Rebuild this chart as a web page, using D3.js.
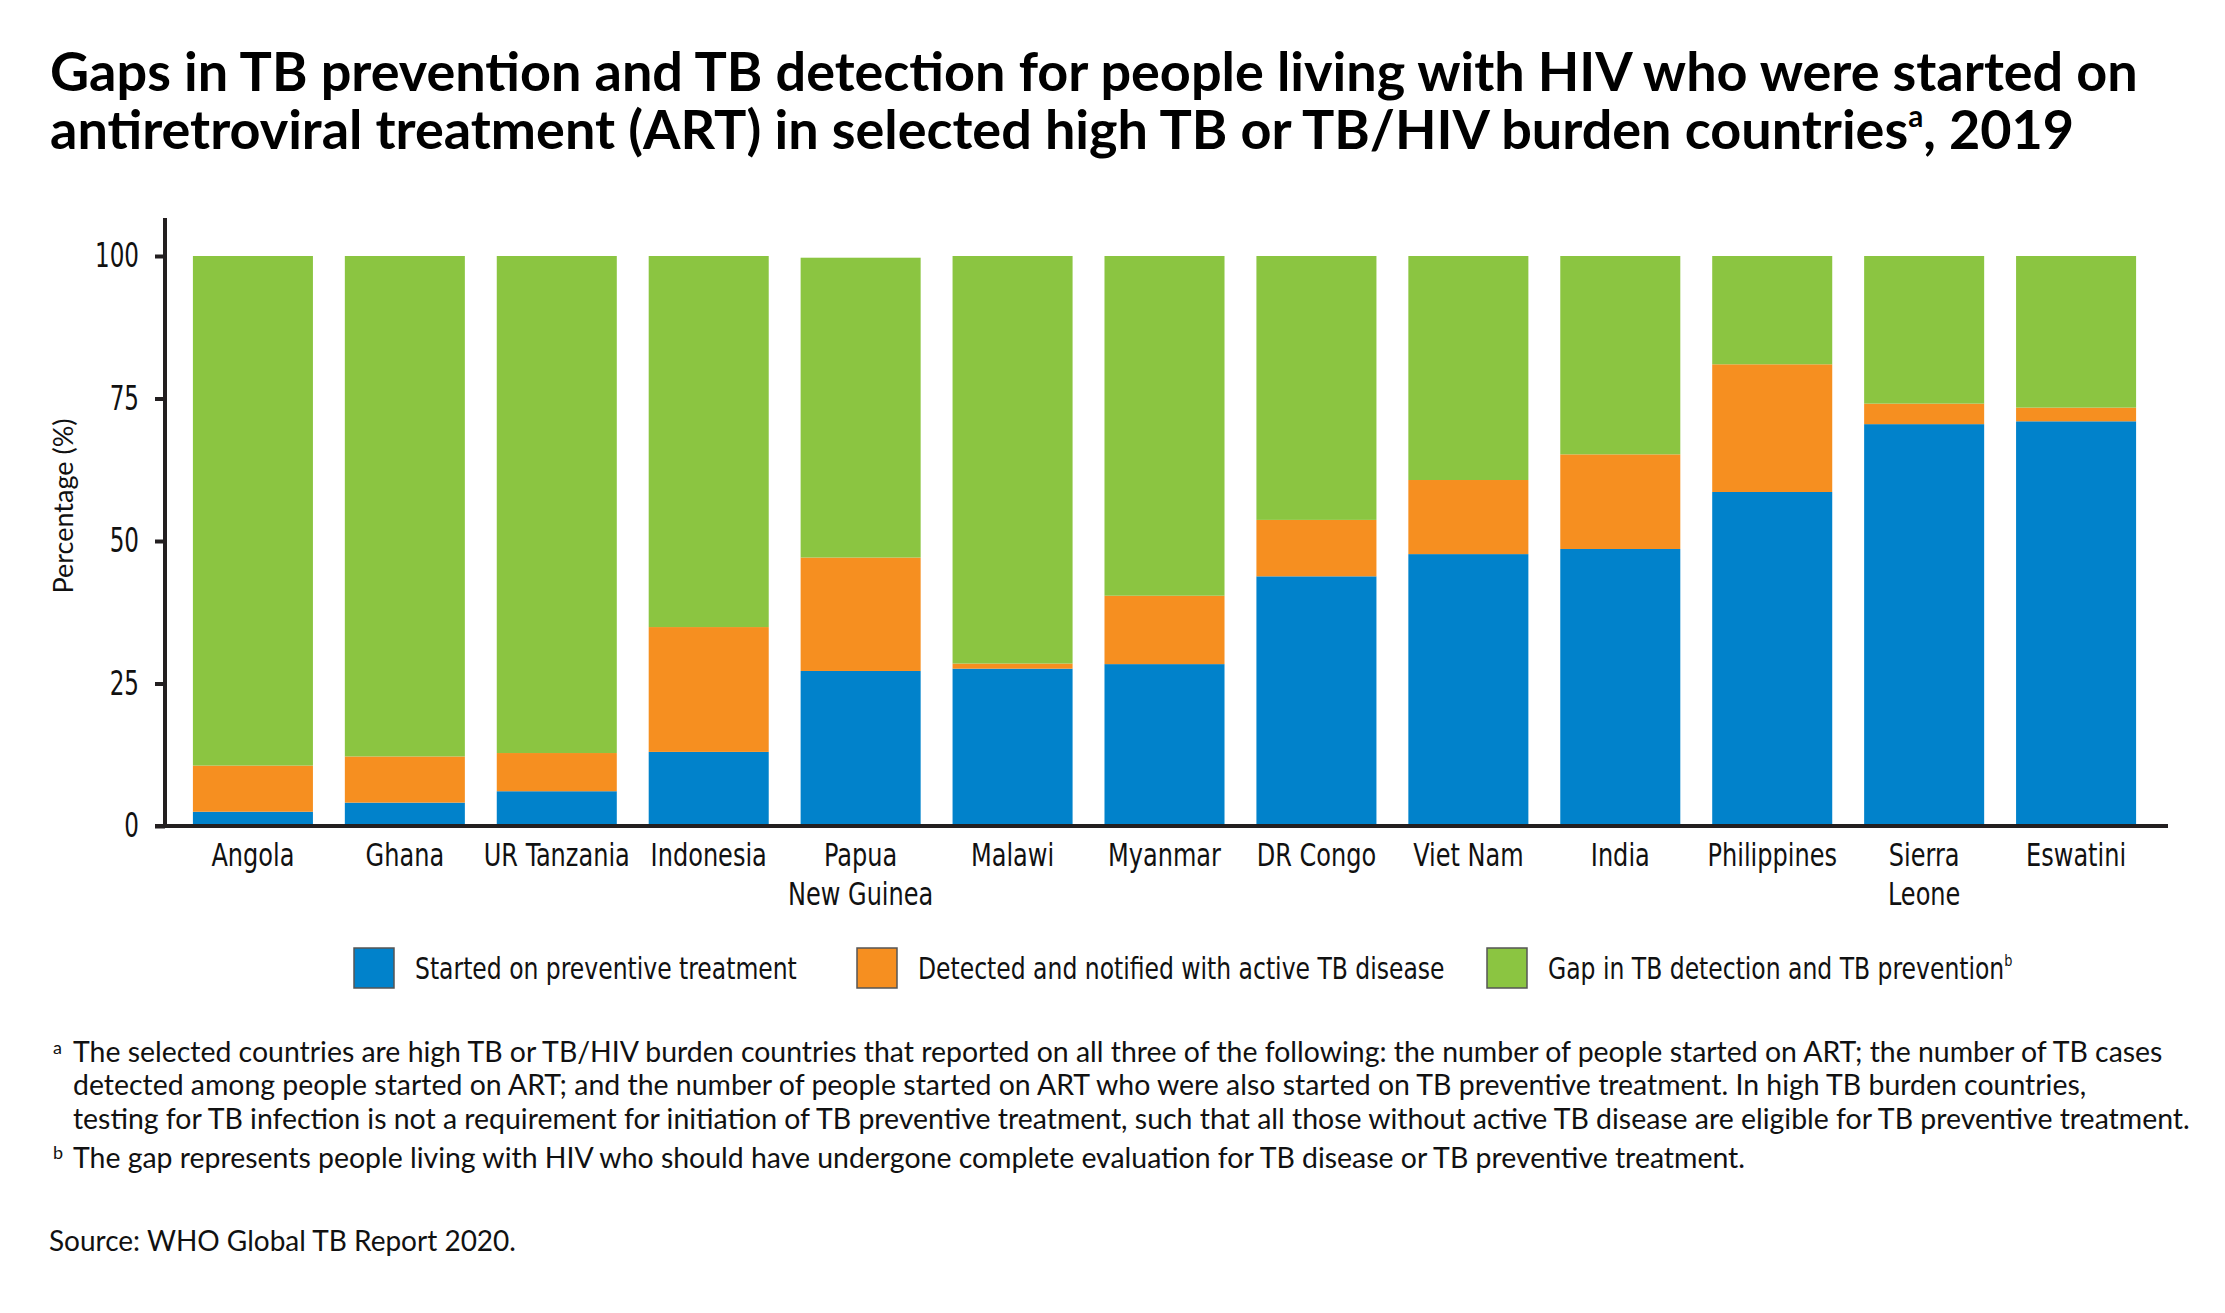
<!DOCTYPE html>
<html>
<head>
<meta charset="utf-8">
<script src="https://cdn.jsdelivr.net/npm/d3@7"></script>
<style>
  body { margin: 0; background: #fff; }
  svg { display: block; }
</style>
</head>
<body>
<svg id="chart" width="2225" height="1313"></svg>
<script>
// values (percent of people started on ART)
const countries = ["Angola", "Ghana", "UR Tanzania", "Indonesia", "Papua New Guinea", "Malawi",
  "Myanmar", "DR Congo", "Viet Nam", "India", "Philippines", "Sierra Leone", "Eswatini"]
const prevented = [2.5, 4.1, 6.1, 13.0, 27.2, 27.6, 28.4, 43.8, 47.7, 48.6, 58.6, 70.5, 71.0]
const detected  = [8.1, 8.1, 6.7, 21.9, 19.9, 0.9, 12.0, 9.9, 13.0, 16.6, 22.4, 3.6, 2.4]
const gap       = [89.4, 87.8, 87.2, 65.1, 52.6, 71.5, 59.6, 46.3, 39.3, 34.8, 19.0, 25.9, 26.6]
const yTicks = [0, 25, 50, 75, 100]

// two-line tick labels where the reference wraps them
const labelLines = {
  "Papua New Guinea": ["Papua", "New Guinea"],
  "Sierra Leone": ["Sierra", "Leone"]
}

const seriesKeys = ["prevented", "detected", "gap"]
const seriesNames = ["Started on preventive treatment", "Detected and notified with active TB disease",
  "Gap in TB detection and TB prevention"]
const colors = ["#0182cb", "#f68f20", "#8bc541"]

const rows = countries.map((c, i) => ({ country: c, prevented: prevented[i], detected: detected[i], gap: gap[i] }))

const svg = d3.select("#chart")
const narrow = "'Liberation Sans Narrow', 'Arial Narrow', 'DejaVu Sans Condensed', sans-serif"
const plain = "Lato, 'Noto Sans', sans-serif"

// scale font size so a text ends up a given width
function fit(sel, target) {
  const w = sel.node().getComputedTextLength()
  const fs = parseFloat(sel.attr("font-size"))
  sel.attr("font-size", fs * target / w)
}

// horizontal squeeze so the installed font looks as condensed as the original
function squeezeFor(str, size, target) {
  const tmp = svg.append("text").attr("font-family", narrow).attr("font-size", size).text(str)
  const w = tmp.node().getComputedTextLength()
  tmp.remove()
  return target / w
}

// title
const t1 = svg.append("text").attr("x", 50).attr("y", 91)
  .attr("font-family", plain).attr("font-weight", 700).attr("font-size", 48).attr("fill", "#000")
  .text("Gaps in TB prevention and TB detection for people living with HIV who were started on")
fit(t1, 2088)
const t2 = svg.append("text").attr("x", 50).attr("y", 149)
  .attr("font-family", plain).attr("font-weight", 700).attr("font-size", t1.attr("font-size")).attr("fill", "#000")
t2.append("tspan").text("antiretroviral treatment (ART) in selected high TB or TB/HIV burden countries")
t2.append("tspan").attr("font-size", "0.55em").attr("dy", "-0.75em").text("a")
t2.append("tspan").attr("dy", "0.41em").text(", 2019")

// scales
const x = d3.scaleBand().domain(countries).range([161, 2168]).padding(0.21)
const y = d3.scaleLinear().domain([0, 100]).range([826, 256])

const stack = d3.stack().keys(seriesKeys)(rows)

svg.append("g").selectAll("g").data(stack).join("g")
  .attr("fill", (d, i) => colors[i])
  .selectAll("rect").data(d => d).join("rect")
  .attr("x", d => x(d.data.country))
  .attr("width", x.bandwidth())
  .attr("y", d => y(d[1]))
  .attr("height", d => y(d[0]) - y(d[1]))

// y axis
const axisX = 165
const tickSq = squeezeFor("100", 33, 44)
const yAxis = svg.append("g").attr("transform", `translate(${axisX},0)`)
  .call(d3.axisLeft(y).tickValues(yTicks).tickSize(10).tickPadding(16))
yAxis.select(".domain").remove()
yAxis.selectAll(".tick line").attr("stroke", "#231f20").attr("stroke-width", 4)
yAxis.selectAll(".tick text").attr("font-family", narrow).attr("font-size", 33).attr("fill", "#111")
  .attr("x", 0).attr("transform", `translate(-26,0) scale(${tickSq},1)`)
yAxis.append("line").attr("x1", 0).attr("x2", 0).attr("y1", 218).attr("y2", y(0) + 2)
  .attr("stroke", "#231f20").attr("stroke-width", 4)

// x axis
svg.append("line").attr("x1", axisX - 10).attr("x2", 2168).attr("y1", y(0)).attr("y2", y(0))
  .attr("stroke", "#231f20").attr("stroke-width", 4)

const labSq = squeezeFor("Angola", 32, 83)
const xl = svg.append("g").selectAll("text").data(countries).join("text")
  .attr("transform", d => `translate(${x(d) + x.bandwidth() / 2},866) scale(${labSq},1)`)
  .attr("text-anchor", "middle")
  .attr("font-family", narrow).attr("font-size", 32).attr("fill", "#111")
xl.selectAll("tspan").data(d => labelLines[d] || [d]).join("tspan")
  .attr("x", 0)
  .attr("dy", (d, i) => i === 0 ? 0 : 39)
  .text(d => d)

// y label
svg.append("text")
  .attr("transform", "translate(73,506) rotate(-90)")
  .attr("text-anchor", "middle")
  .attr("font-family", plain).attr("font-size", 27).attr("fill", "#111")
  .text("Percentage (%)")

// legend
const legendX = [354, 857, 1487]
const legSq = squeezeFor(seriesNames[0], 30, 382)
const legend = svg.append("g").selectAll("g").data(seriesNames).join("g")
  .attr("transform", (d, i) => `translate(${legendX[i]},948)`)
legend.append("rect").attr("width", 40).attr("height", 40)
  .attr("fill", (d, i) => colors[i]).attr("stroke", "#555").attr("stroke-width", 1.5)
const legendText = legend.append("text").attr("transform", `translate(61,31) scale(${legSq},1)`)
  .attr("font-family", narrow).attr("font-size", 30).attr("fill", "#111")
legendText.append("tspan").text(d => d)
legendText.filter((d, i) => i === 2).append("tspan")
  .attr("font-size", "0.55em").attr("dy", "-0.8em").text("b")

// footnotes
const notesA = [
  "The selected countries are high TB or TB/HIV burden countries that reported on all three of the following: the number of people started on ART; the number of TB cases",
  "detected among people started on ART; and the number of people started on ART who were also started on TB preventive treatment. In high TB burden countries,",
  "testing for TB infection is not a requirement for initiation of TB preventive treatment, such that all those without active TB disease are eligible for TB preventive treatment."
]
const noteB = "The gap represents people living with HIV who should have undergone complete evaluation for TB disease or TB preventive treatment."
const source = "Source: WHO Global TB Report 2020."

const noteY = [1062, 1095, 1129]
const noteText = svg.append("g").selectAll("text").data(notesA).join("text")
  .attr("x", 73).attr("y", (d, i) => noteY[i])
  .attr("font-family", plain).attr("font-size", 26).attr("fill", "#111")
  .text(d => d)
fit(noteText.filter((d, i) => i === 2), 2118)
const noteFs = noteText.filter((d, i) => i === 2).attr("font-size")
noteText.attr("font-size", noteFs)
svg.append("text").attr("x", 73).attr("y", 1168)
  .attr("font-family", plain).attr("font-size", noteFs).attr("fill", "#111").text(noteB)

svg.append("text").attr("x", 53).attr("y", 1054).attr("font-family", plain).attr("font-size", 18)
  .attr("fill", "#111").text("a")
svg.append("text").attr("x", 53).attr("y", 1159).attr("font-family", plain).attr("font-size", 18)
  .attr("fill", "#111").text("b")

svg.append("text").attr("x", 49).attr("y", 1251)
  .attr("font-family", plain).attr("font-size", 28).attr("fill", "#111").text(source)
</script>
</body>
</html>
